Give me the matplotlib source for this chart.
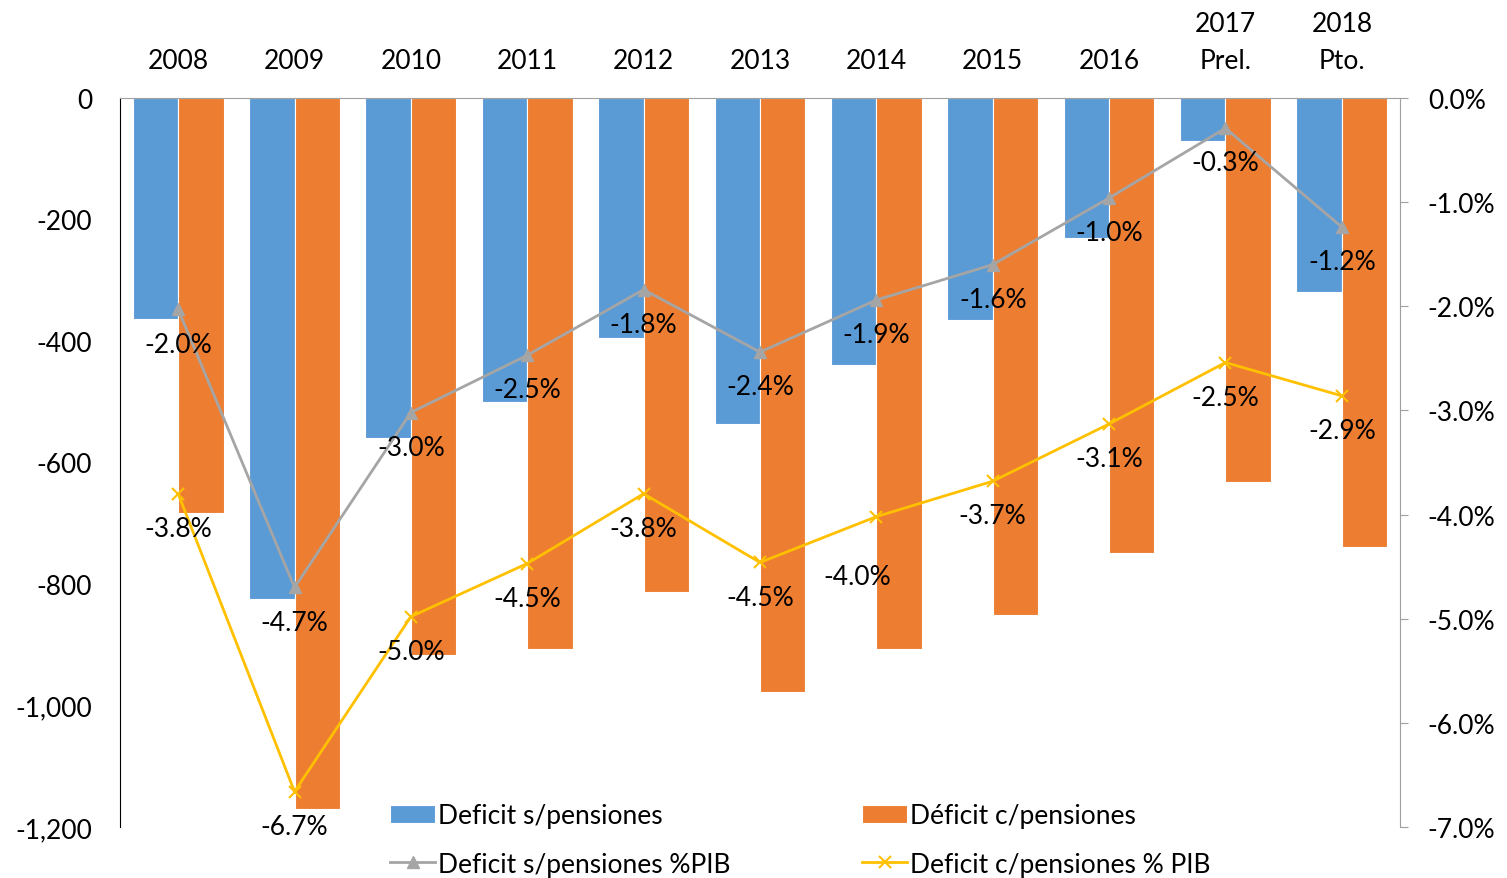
import matplotlib
matplotlib.use('Agg')

from matplotlib import pyplot as plt
from matplotlib.ticker import FuncFormatter
import numpy as np

plt.rcParams['font.family'] = ['Lato', 'DejaVu Sans']
plt.rcParams['axes.unicode_minus'] = False

years = ["2008", "2009", "2010", "2011", "2012", "2013", "2014", "2015", "2016",
         "2017\nPrel.", "2018\nPto."]
deficit_sin = [-364, -825, -560, -500, -395, -537, -440, -365, -230, -71, -320]
deficit_con = [-683, -1170, -917, -907, -813, -978, -907, -851, -749, -632, -739]
pib_sin = [-2.03, -4.70, -3.02, -2.47, -1.84, -2.44, -1.94, -1.60, -0.96, -0.29, -1.24]
pib_con = [-3.80, -6.66, -4.98, -4.47, -3.80, -4.46, -4.02, -3.68, -3.13, -2.54, -2.86]

blue = '#5B9BD5'
orange = '#ED7D31'
gray = '#A5A5A5'
yellow = '#FFC000'

fig = plt.figure(figsize=(15.07, 8.79), dpi=100)
ax = fig.add_axes([0.0796, 0.058, 0.8494, 0.8294])

x = np.arange(len(years))
w = 0.39
b1 = ax.bar(x - w/2, deficit_sin, w, color=blue, edgecolor='white', linewidth=0.8,
            label='Deficit s/pensiones')
b2 = ax.bar(x + w/2, deficit_con, w, color=orange, edgecolor='white', linewidth=0.8,
            label='Déficit c/pensiones')
ax.set_xlim(-0.5, len(years) - 0.5)
ax.set_ylim(-1200, 0)
ax.set_yticks(range(-1200, 1, 200))
ax.yaxis.set_major_formatter(FuncFormatter(lambda v, p: '{:,.0f}'.format(v)))
ax.tick_params(axis='y', length=0, pad=20, labelsize=19)
ax.xaxis.tick_top()
ax.set_xticks(x)
ax.set_xticklabels(years, linespacing=1.6)
ax.tick_params(axis='x', length=0, pad=18, labelsize=19)
ax.spines['bottom'].set_visible(False)
ax.spines['right'].set_visible(False)
ax.spines['top'].set_color('#A0A0A0')
ax.spines['left'].set_color('black')

ax2 = ax.twinx()
l1, = ax2.plot(x, pib_sin, color=gray, lw=2, marker='^', ms=8,
               label='Deficit s/pensiones %PIB')
l2, = ax2.plot(x, pib_con, color=yellow, lw=2, marker='x', ms=8, mew=1.5,
               label='Deficit c/pensiones % PIB')
ax2.set_ylim(-7, 0)
ax2.set_yticks(range(-7, 1))
ax2.yaxis.set_major_formatter(FuncFormatter(lambda v, p: '{:.1f}%'.format(v + 0.0)))
ax2.tick_params(axis='y', length=6, pad=14, labelsize=19, color='#A0A0A0')
for s in ['top', 'bottom', 'left']:
    ax2.spines[s].set_visible(False)
ax2.spines['right'].set_color('#A0A0A0')

for i in range(len(years)):
    ax2.annotate('{:.1f}%'.format(pib_sin[i]), (x[i], pib_sin[i]), xytext=(0, -25),
                 textcoords='offset points', ha='center', va='center', fontsize=19)
    off = (-14, -43) if years[i] == "2014" else (0, -25)
    ax2.annotate('{:.1f}%'.format(pib_con[i]), (x[i], pib_con[i]), xytext=off,
                 textcoords='offset points', ha='center', va='center', fontsize=19)

fig.legend(handles=[b1, l1, b2, l2], loc='upper left', bbox_to_anchor=(0.252, 0.097),
           ncol=2, frameon=False, fontsize=19, handlelength=1.7, handletextpad=0.1,
           columnspacing=5.0, labelspacing=0.88, borderaxespad=0)

plt.savefig('out.png')
